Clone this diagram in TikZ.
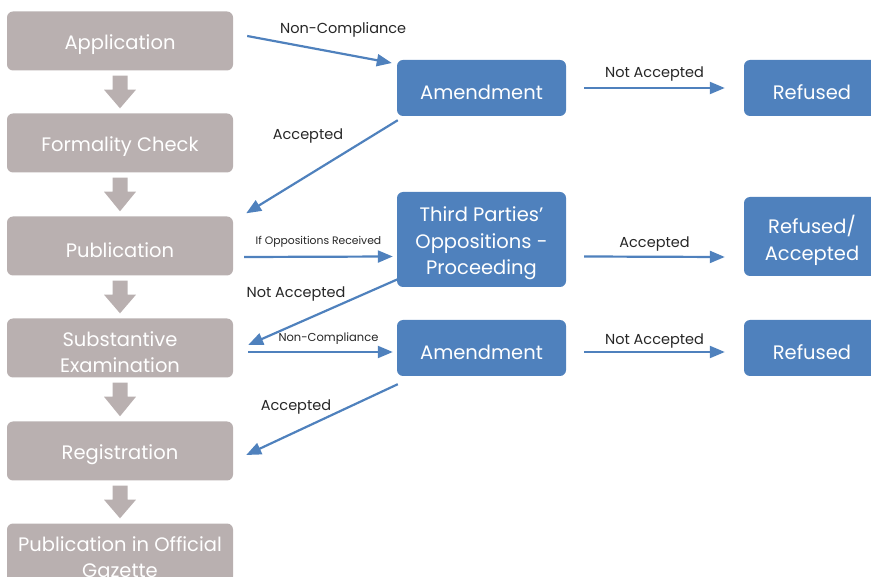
\documentclass[tikz,border=0pt]{standalone}
\usepackage{fontspec}
\setmainfont{Poppins}
\usetikzlibrary{arrows.meta,calc}
\definecolor{stepgray}{RGB}{185,176,176}
\definecolor{flowblue}{RGB}{79,129,189}
\begin{document}
\begin{tikzpicture}[x=1pt, y=-1pt, >={Triangle[length=15pt,width=12pt]},
    boxtext/.style={text=white, align=center, font=\fontsize{19.5}{26.5}\selectfont, yshift=-4pt},
    gbox/.style={fill=stepgray, rounded corners=6pt, minimum width=226pt, minimum height=59pt,
      label={[boxtext]center:#1}},
    bbox/.style={fill=flowblue, rounded corners=6pt, minimum width=169pt, minimum height=56pt,
      label={[boxtext]center:#1}},
    flow/.style={->, draw=flowblue, line width=2.2pt},
    lbl/.style={text=black!85, font=\fontsize{14.5}{17}\selectfont},
    slbl/.style={text=black!85, font=\fontsize{10.8}{12}\selectfont}]
    \useasboundingbox (0,0) rectangle (871,577);

    % Main steps
    \node[gbox={Application}] (app) at (120,41) {};
    \node[gbox={Formality Check}] (form) at (120,143) {};
    \node[gbox={Publication}] (pub) at (120,246) {};
    \node[gbox={Substantive\\Examination}] (sub) at (120,348) {};
    \node[gbox={Registration}] (reg) at (120,451) {};
    \node[gbox={Publication in Official\\Gazette}] (gaz) at (120,553) {};

    % Side outcomes
    \node[bbox={Amendment}] (amdA) at (481.5,88) {};
    \node[bbox={Refused}, minimum width=136pt] (refA) at (812,88) {};
    \node[bbox={Third Parties’\\Oppositions -\\Proceeding}, minimum height=95pt] (opp) at (481.5,239.5) {};
    \node[bbox={Refused/\\Accepted}, minimum width=136pt, minimum height=79pt] (refacc) at (812,236.5) {};
    \node[bbox={Amendment}] (amdB) at (481.5,348) {};
    \node[bbox={Refused}, minimum width=136pt] (refB) at (812,348) {};

    % Grey block arrows between steps
    \foreach \a/\b in {app/form, form/pub, pub/sub, sub/reg, reg/gaz}
        \fill[stepgray] ($(\a.south)+(-7.5,5)$) -- ($(\a.south)+(7.5,5)$) -- ($(\a.south)+(7.5,19)$)
            -- ($(\a.south)+(16,19)$) -- ($(\b.north)+(0,-5)$) -- ($(\a.south)+(-16,19)$)
            -- ($(\a.south)+(-7.5,19)$) -- cycle;

    % Connectors
    \draw[flow] ([shift={(14,-5)}]app.east) -- ([shift={(-5,-25)}]amdA.west)
        node[lbl, pos=.65, xshift=2pt, yshift=23.5pt] {Non-Compliance};
    \draw[flow] ([shift={(18,0)}]amdA.east) -- ([shift={(-19,0)}]refA.west)
        node[lbl, midway, yshift=14pt] {Not Accepted};
    \draw[flow] ([shift={(1,4)}]amdA.south west) -- ([shift={(13,-3)}]pub.north east)
        node[lbl, midway, xshift=-14pt, yshift=31pt] {Accepted};
    \draw[flow] ([shift={(11,11)}]pub.east) -- ([shift={(-4,17)}]opp.west)
        node[slbl, midway, yshift=15pt] {If Oppositions Received};
    \draw[flow] ([shift={(18,17)}]opp.east) -- ([shift={(-19,20.5)}]refacc.west)
        node[lbl, midway, yshift=12.5pt] {Accepted};
    \draw[flow] ([shift={(1,-8)}]opp.south west) -- ([shift={(15,-3)}]sub.east)
        node[lbl, midway, xshift=-27pt, yshift=18.5pt] {Not Accepted};
    \draw[flow] ([shift={(15,4)}]sub.east) -- ([shift={(-4,4)}]amdB.west)
        node[slbl, midway, xshift=8pt, yshift=13pt, font=\fontsize{11.5}{13}\selectfont] {Non-Compliance};
    \draw[flow] ([shift={(18,4)}]amdB.east) -- ([shift={(-19,4)}]refB.west)
        node[lbl, midway, yshift=11pt] {Not Accepted};
    \draw[flow] ([shift={(1,8)}]amdB.south west) -- ([shift={(13,4)}]reg.east)
        node[lbl, midway, xshift=-26pt, yshift=13pt] {Accepted};
\end{tikzpicture}
\end{document}
